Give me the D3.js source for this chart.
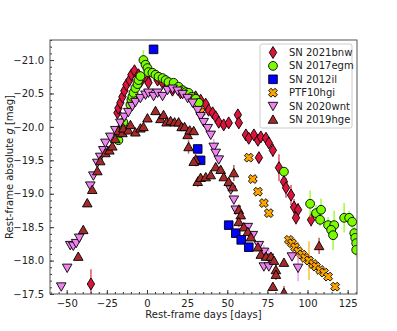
<!DOCTYPE html>
<html>
<head>
<meta charset="utf-8">
<script src="https://cdn.jsdelivr.net/npm/d3@7"></script>
<style>
  body { margin: 0; background: #fff; }
  svg text { font-family: "DejaVu Sans", sans-serif; }
</style>
</head>
<body>
<div id="chart"></div>
<script>
// [rest-frame day, absolute g mag, error]
const sn2021bnw = [
  [-34.9, -17.65, 0.22], [-18.4, -20.21, 0.03], [-17.8, -20.28, 0.03], [-16.6, -20.36, 0.03],
  [-15.3, -20.45, 0.03], [-14.1, -20.54, 0.03], [-12.8, -20.63, 0.03], [-10.9, -20.70, 0.03],
  [-9.7, -20.78, 0.03], [-7.8, -20.84, 0.03], [-5.3, -20.78, 0.03], [-4.1, -20.67, 0.03],
  [0.3, -20.70, 0.03], [0.9, -20.66, 0.03], [6.6, -20.70, 0.03], [9.7, -20.66, 0.03],
  [12.8, -20.60, 0.03], [15.9, -20.55, 0.03], [20.9, -20.51, 0.03], [25.9, -20.48, 0.03],
  [30.3, -20.45, 0.03], [33.4, -20.40, 0.05], [36.6, -20.34, 0.05], [38.4, -20.25, 0.05],
  [40.9, -20.21, 0.05], [42.8, -20.15, 0.05], [44.7, -20.07, 0.05], [47.8, -20.03, 0.05],
  [50.9, -20.06, 0.05], [56.6, -20.18, 0.06], [57.2, -20.06, 0.05], [61.6, -19.88, 0.05],
  [63.4, -19.83, 0.06], [66.6, -19.88, 0.06], [69.1, -19.80, 0.05], [70.9, -19.85, 0.06],
  [74.1, -19.83, 0.06], [75.9, -19.76, 0.06], [78.4, -19.65, 0.1], [69.7, -19.54, 0.05],
  [82.2, -19.39, 0.2], [85.3, -19.18, 0.12], [86.6, -19.09, 0.15], [89.7, -18.98, 0.15],
  [91.6, -18.80, 0.12], [94.1, -18.76, 0.1], [92.8, -18.64, 0.1], [102.2, -18.61, 0.1]
];
const sn2017egm = [
  [-17.8, -19.80, 0.03], [-16.6, -19.91, 0.03], [-15.3, -20.00, 0.03], [-14.7, -20.07, 0.03],
  [-10.3, -20.33, 0.03], [-9.7, -20.40, 0.03], [-9.1, -20.45, 0.03], [-8.4, -20.51, 0.03],
  [-7.2, -20.58, 0.03], [-5.9, -20.64, 0.03], [-5.3, -20.70, 0.03], [-4.1, -20.76, 0.03],
  [-2.2, -21.00, 0.15], [-0.9, -20.93, 0.03], [0.3, -20.88, 0.03], [0.9, -20.82, 0.03],
  [3.4, -20.81, 0.03], [5.3, -20.78, 0.03], [7.2, -20.75, 0.03], [9.7, -20.73, 0.03],
  [11.6, -20.70, 0.03], [13.4, -20.67, 0.03], [16.6, -20.66, 0.03], [19.7, -20.60, 0.03],
  [22.2, -20.55, 0.03], [24.1, -20.52, 0.03], [25.9, -20.51, 0.03], [27.8, -20.45, 0.03],
  [30.3, -20.42, 0.03], [32.2, -20.36, 0.03], [85.3, -19.33, 0.05], [101.6, -18.85, 0.2],
  [105.3, -18.71, 0.12], [108.4, -18.76, 0.17], [107.8, -18.61, 0.1], [112.8, -18.53, 0.12],
  [116.6, -18.53, 0.22], [114.7, -18.46, 0.1], [115.9, -18.38, 0.22], [122.8, -18.64, 0.22],
  [125.9, -18.64, 0.1], [127.8, -18.58, 0.1], [129.1, -18.41, 0.1], [129.7, -18.34, 0.1],
  [130.3, -18.26, 0.1], [130.3, -18.16, 0.1]
];
const sn2012il = [
  [4.1, -21.16, 0.03], [31.6, -19.67, 0.03], [33.4, -19.50, 0.03], [50.9, -18.53, 0.03],
  [55.3, -18.41, 0.03], [58.7, -18.31, 0.05], [63.4, -18.20, 0.05]
];
const ptf10hgi = [
  [33.4, -20.22, 0.03], [63.4, -19.54, 0.03], [65.9, -19.22, 0.05], [69.1, -19.03, 0.05],
  [72.8, -18.86, 0.05], [75.9, -18.71, 0.05], [88.4, -18.31, 0.05], [90.3, -18.26, 0.05],
  [92.2, -18.20, 0.05], [94.1, -18.14, 0.14], [96.6, -18.09, 0.05], [98.4, -18.04, 0.05],
  [100.9, -18.00, 0.29], [103.4, -17.95, 0.05], [105.3, -17.91, 0.05], [107.8, -17.86, 0.05],
  [110.3, -17.82, 0.05], [112.8, -17.76, 0.05], [117.2, -17.61, 0.05]
];
const sn2020wnt = [
  [-53.4, -17.61, 0.03], [-49.7, -17.89, 0.03], [-47.8, -18.23, 0.03], [-45.9, -18.22, 0.05],
  [-44.1, -18.26, 0.05], [-42.2, -18.34, 0.03], [-35.3, -19.12, 0.03], [-33.4, -19.27, 0.03],
  [-30.9, -19.46, 0.03], [-29.1, -19.55, 0.03], [-27.2, -19.65, 0.03], [-25.9, -19.76, 0.03],
  [-22.8, -19.85, 0.03], [-19.7, -19.95, 0.03], [-16.6, -20.06, 0.03], [-14.1, -20.15, 0.03],
  [-11.6, -20.22, 0.03], [-9.1, -20.31, 0.03], [-7.2, -20.37, 0.03], [-4.1, -20.43, 0.03],
  [-0.9, -20.48, 0.03], [0.9, -20.51, 0.03], [4.1, -20.46, 0.03], [6.6, -20.51, 0.03],
  [9.7, -20.46, 0.03], [12.8, -20.55, 0.03], [15.9, -20.57, 0.03], [19.1, -20.54, 0.03],
  [22.2, -20.49, 0.03], [25.3, -20.43, 0.03], [28.4, -20.36, 0.03], [31.6, -20.25, 0.03],
  [33.4, -20.16, 0.03], [35.3, -20.07, 0.03], [37.8, -19.98, 0.03], [39.7, -19.88, 0.03],
  [41.6, -19.70, 0.12], [42.8, -19.61, 0.05], [44.7, -19.51, 0.05], [52.2, -19.06, 0.05],
  [54.1, -18.91, 0.05], [55.3, -18.76, 0.05], [62.8, -18.50, 0.05], [65.9, -18.38, 0.05],
  [69.7, -18.23, 0.05], [72.8, -18.13, 0.1], [75.9, -18.04, 0.15], [72.8, -17.91, 0.05],
  [75.9, -17.91, 0.05], [90.3, -18.06, 0.05], [94.1, -17.89, 0.2]
];
const sn2019hge = [
  [-42.8, -18.06, 0.06], [-39.7, -18.46, 0.03], [-37.2, -18.86, 0.03], [-34.1, -19.06, 0.03],
  [-30.9, -19.34, 0.03], [-29.1, -19.49, 0.03], [-25.9, -19.61, 0.03], [-23.4, -19.65, 0.03],
  [-21.6, -19.71, 0.03], [-19.7, -19.82, 0.03], [-17.8, -19.94, 0.03], [-15.3, -19.91, 0.03],
  [-14.7, -19.98, 0.03], [-11.6, -19.95, 0.03], [-10.3, -20.03, 0.03], [-7.2, -19.92, 0.03],
  [-4.1, -19.98, 0.03], [-2.2, -20.00, 0.03], [0.3, -20.13, 0.03], [5.3, -20.24, 0.03],
  [8.4, -20.12, 0.03], [10.3, -20.18, 0.03], [12.2, -20.07, 0.03], [14.7, -20.09, 0.03],
  [17.2, -20.07, 0.03], [19.7, -20.07, 0.03], [21.6, -20.00, 0.03], [23.4, -20.00, 0.03],
  [25.3, -19.88, 0.03], [26.6, -19.95, 0.03], [29.1, -19.94, 0.03], [25.9, -19.70, 0.1],
  [30.3, -19.51, 0.1], [29.1, -19.48, 0.05], [31.6, -19.18, 0.08], [33.4, -19.24, 0.05],
  [36.6, -19.25, 0.05], [39.7, -19.28, 0.05], [42.8, -19.40, 0.05], [45.9, -19.36, 0.05],
  [47.8, -19.25, 0.05], [50.9, -19.18, 0.05], [53.4, -19.10, 0.05], [54.1, -19.31, 0.12],
  [57.2, -18.76, 0.08], [58.4, -18.68, 0.05], [57.2, -18.58, 0.08], [60.3, -18.50, 0.05],
  [62.8, -18.43, 0.05], [64.7, -18.35, 0.05], [69.1, -18.20, 0.05], [70.9, -18.09, 0.05],
  [74.1, -18.06, 0.05], [77.2, -18.06, 0.05], [79.1, -18.00, 0.05], [80.3, -17.86, 0.08],
  [80.3, -17.79, 0.08], [78.4, -17.61, 0.05], [85.3, -17.97, 0.05], [85.3, -17.52, 0.1],
  [107.2, -18.22, 0.12]
];

const seriesNames = ["SN 2021bnw", "SN 2017egm", "SN 2012il", "PTF10hgi", "SN 2020wnt", "SN 2019hge"];
const seriesData = [sn2021bnw, sn2017egm, sn2012il, ptf10hgi, sn2020wnt, sn2019hge];
const seriesColors = ["#dc143c", "#7cfc00", "#0000ff", "#ffa500", "#ee82ee", "#a52a2a"];
const seriesShapes = ["diamond", "circle", "square", "x", "tridown", "triup"];
const xTicks = [-50, -25, 0, 25, 50, 75, 100, 125];
const yTicks = [-21.0, -20.5, -20.0, -19.5, -19.0, -18.5, -18.0, -17.5];

const W = 397, H = 331;
const margin = { top: 40, right: 40, bottom: 37, left: 50 };
const iw = W - margin.left - margin.right;
const ih = H - margin.top - margin.bottom;

const svg = d3.select("#chart").append("svg")
  .attr("width", W).attr("height", H);

const g = svg.append("g")
  .attr("transform", `translate(${margin.left},${margin.top})`);

const x = d3.scaleLinear().domain([-60.4, 130.8]).range([0, iw]);
const y = d3.scaleLinear().domain([-17.5, -21.3]).range([ih, 0]);

// marker shapes
function shapePath(type) {
  if (type === "diamond") return "M0,-6L3.7,0L0,6L-3.7,0Z";
  if (type === "circle") return d3.symbol(d3.symbolCircle, Math.PI * 4.4 * 4.4)();
  if (type === "square") return "M-4.3,-4.3L4.3,-4.3L4.3,4.3L-4.3,4.3Z";
  if (type === "tridown") return "M-4.8,-3.8L4.8,-3.8L0,4.6Z";
  if (type === "triup") return "M-4.8,3.8L4.8,3.8L0,-4.6Z";
  // filled X
  const a = 4.6, b = 1.7;
  const pts = [[b, b], [b, a], [-b, a], [-b, b], [-a, b], [-a, -b], [-b, -b], [-b, -a], [b, -a], [b, -b], [a, -b], [a, b]];
  const c = Math.SQRT1_2;
  return "M" + pts.map(p => [(p[0] - p[1]) * c, (p[0] + p[1]) * c].map(v => v.toFixed(2)).join(",")).join("L") + "Z";
}

const plot = g.append("g");
plot.append("clipPath").attr("id", "clip")
  .append("rect").attr("width", iw).attr("height", ih);
const inner = plot.append("g").attr("clip-path", "url(#clip)");

seriesData.forEach((data, i) => {
  const s = inner.append("g");
  // error bars
  s.selectAll("line.err")
    .data(data)
    .enter().append("line")
    .attr("x1", d => x(d[0])).attr("x2", d => x(d[0]))
    .attr("y1", d => y(d[1] - d[2])).attr("y2", d => y(d[1] + d[2]))
    .attr("stroke", seriesColors[i])
    .attr("stroke-opacity", 0.75)
    .attr("stroke-width", 1.5);
  // markers
  s.selectAll("path.pt")
    .data(data)
    .enter().append("path")
    .attr("d", shapePath(seriesShapes[i]))
    .attr("transform", d => `translate(${x(d[0])},${y(d[1])})`)
    .attr("fill", seriesColors[i])
    .attr("stroke", "#000")
    .attr("stroke-width", 0.9);
});

// axes with inward ticks
const tickColor = "#333";
g.append("g")
  .attr("transform", `translate(0,${ih})`)
  .call(d3.axisBottom(x).tickValues(d3.range(-60, 131, 5)).tickSize(-2).tickFormat(""))
  .call(a => a.select(".domain").remove())
  .call(a => a.selectAll(".tick line").attr("stroke", tickColor));
g.append("g")
  .attr("transform", `translate(0,${ih})`)
  .call(d3.axisBottom(x).tickValues(xTicks).tickSize(-4).tickPadding(6)
    .tickFormat(d => d3.format("d")(d).replace("-", "\u2212")))
  .call(a => a.select(".domain").remove())
  .call(a => a.selectAll(".tick line").attr("stroke", tickColor))
  .call(a => a.selectAll(".tick text").attr("fill", "#222").attr("font-size", "10px"));

g.append("g")
  .call(d3.axisLeft(y).tickValues(d3.range(-21.3, -17.45, 0.1)).tickSize(-2).tickFormat(""))
  .call(a => a.select(".domain").remove())
  .call(a => a.selectAll(".tick line").attr("stroke", tickColor));
g.append("g")
  .call(d3.axisLeft(y).tickValues(yTicks).tickSize(-4).tickPadding(6)
    .tickFormat(d => d3.format(".1f")(d).replace("-", "\u2212")))
  .call(a => a.select(".domain").remove())
  .call(a => a.selectAll(".tick line").attr("stroke", tickColor))
  .call(a => a.selectAll(".tick text").attr("fill", "#222").attr("font-size", "10px"));

// frame
g.append("rect")
  .attr("width", iw).attr("height", ih)
  .attr("fill", "none").attr("stroke", "#555").attr("stroke-width", 1);

// axis labels
svg.append("text")
  .attr("x", margin.left + iw / 2).attr("y", 318)
  .attr("text-anchor", "middle").attr("font-size", "10px").attr("fill", "#222")
  .text("Rest-frame days [days]");

const yl = svg.append("text")
  .attr("transform", `translate(12.5,${margin.top + ih / 2}) rotate(-90)`)
  .attr("text-anchor", "middle").attr("font-size", "10px").attr("fill", "#222");
yl.append("tspan").text("Rest-frame absolute ");
yl.append("tspan").attr("font-style", "italic").text("g");
yl.append("tspan").text(" [mag]");

// legend
const lg = svg.append("g").attr("transform", "translate(260,44)");
lg.append("rect")
  .attr("width", 92).attr("height", 84).attr("rx", 2)
  .attr("fill", "#fff").attr("fill-opacity", 0.85)
  .attr("stroke", "#ccc").attr("stroke-width", 1);
seriesNames.forEach((name, i) => {
  const row = lg.append("g").attr("transform", `translate(13,${8.5 + i * 13.4})`);
  row.append("path")
    .attr("d", shapePath(seriesShapes[i]))
    .attr("fill", seriesColors[i]).attr("stroke", "#000").attr("stroke-width", 0.9);
  row.append("text")
    .attr("x", 16).attr("y", 3.5)
    .attr("font-size", "10px").attr("fill", "#222")
    .text(name);
});
</script>
</body>
</html>
